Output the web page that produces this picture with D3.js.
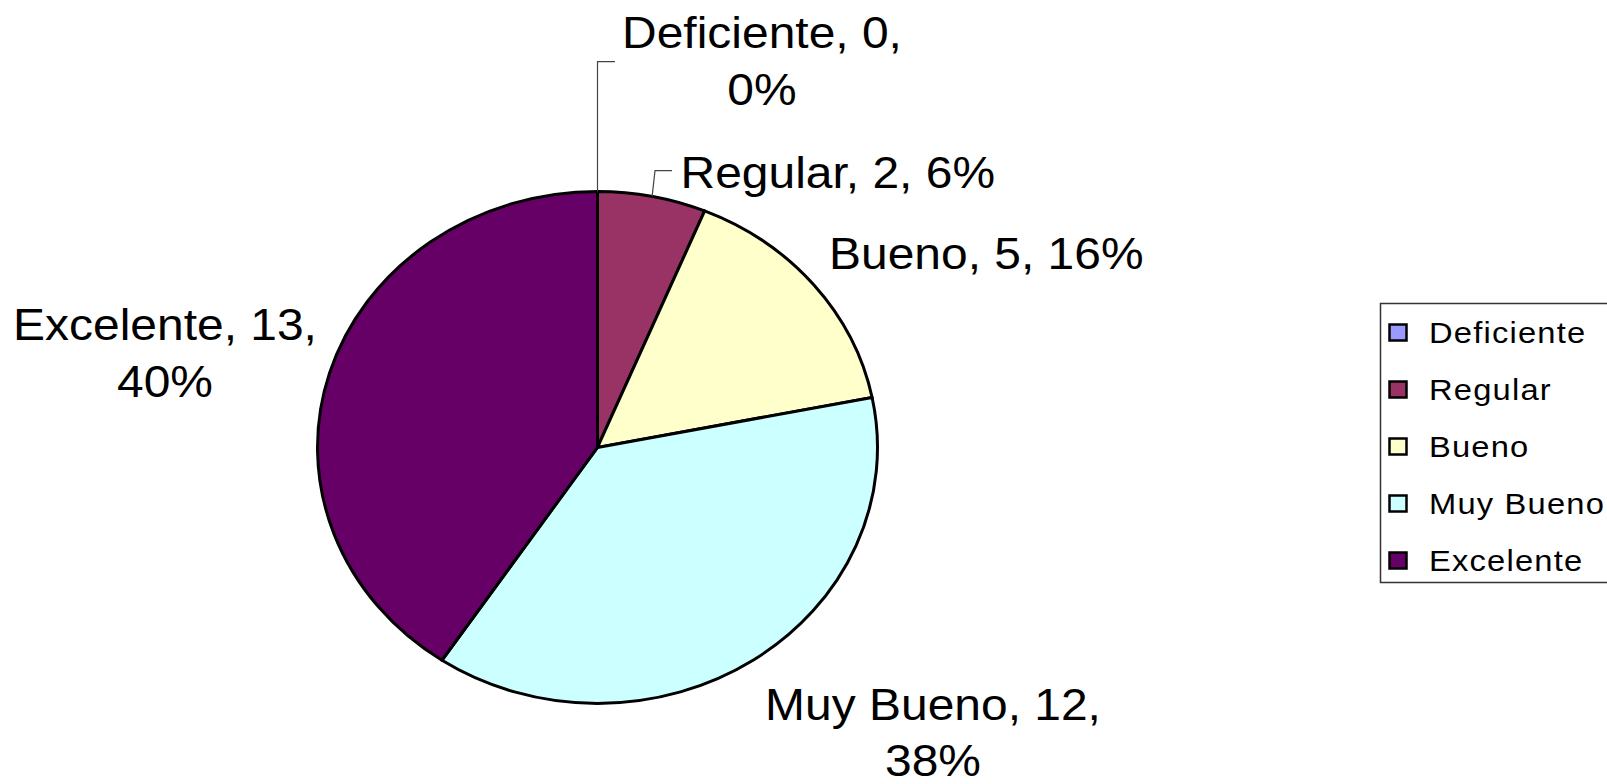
<!DOCTYPE html>
<html>
<head>
<meta charset="utf-8">
<script src="https://cdn.jsdelivr.net/npm/d3@7"></script>
<style>
  html, body { margin: 0; padding: 0; background: #fff; }
  svg { display: block; font-family: "Liberation Sans", Arial, sans-serif; }
</style>
</head>
<body>
<svg id="chart" width="1607" height="784"></svg>
<script>
// ---- data ----
const categories = ["Deficiente", "Regular", "Bueno", "Muy Bueno", "Excelente"];
const values = [0, 2, 5, 12, 13];
const percentLabels = ["0%", "6%", "16%", "38%", "40%"];
const colors = ["#9999FF", "#993366", "#FFFFCC", "#CCFFFF", "#660066"];

// ---- layout ----
const W = 1607, H = 784;
const cx = 597.5, cy = 447.4, rx = 280, ry = 256;
const sx = 1.09; // horizontal stretch of text (chart is stretched)
const svg = d3.select("#chart");
svg.append("rect").attr("width", W).attr("height", H).attr("fill", "#fff");

const pie = d3.pie().sort(null).value(d => d.v).startAngle(0).endAngle(2 * Math.PI);
const data = categories.map((c, i) => ({ c, v: values[i], pct: percentLabels[i], col: colors[i] }));
const arcs = pie(data);
const arc = d3.arc().innerRadius(0).outerRadius(rx);

const g = svg.append("g").attr("transform", `translate(${cx},${cy}) scale(1,${ry / rx})`);
g.selectAll("path").data(arcs).enter().append("path")
  .attr("d", arc)
  .attr("fill", d => d.data.col)
  .attr("stroke", "#000")
  .attr("stroke-width", 3)
  .attr("stroke-linejoin", "round")
  .attr("vector-effect", "non-scaling-stroke");

// point on ellipse edge at angle a (0 = top, clockwise)
function edge(a) { return [cx + rx * Math.sin(a), cy - ry * Math.cos(a)]; }

// ---- data labels ----
const fs = 44, lh = 56.5;
const labelPos = {
  "Deficiente": { x: 762, y: 48.3, anchor: "middle", lines: 2 },
  "Regular":    { x: 680.5, y: 187.5, anchor: "start", lines: 1 },
  "Bueno":      { x: 829, y: 268.5, anchor: "start", lines: 1 },
  "Muy Bueno":  { x: 933, y: 719.5, anchor: "middle", lines: 2 },
  "Excelente":  { x: 165, y: 340, anchor: "middle", lines: 2 }
};
arcs.forEach(a => {
  const p = labelPos[a.data.c];
  const lines = p.lines === 2 ? [`${a.data.c}, ${a.data.v},`, a.data.pct] : [`${a.data.c}, ${a.data.v}, ${a.data.pct}`];
  lines.forEach((t, k) => {
    svg.append("text")
      .attr("transform", `translate(${p.x},${p.y + k * lh}) scale(${sx},1)`)
      .attr("text-anchor", p.anchor)
      .attr("font-size", fs)
      .attr("fill", "#000")
      .text(t);
  });
});

// ---- leader lines ----
const leaders = {
  "Deficiente": (e) => [e, [e[0], 61.7], [615, 61.7]],
  "Regular":    (e) => [e, [655, 170.7], [672, 170.7]]
};
arcs.forEach(a => {
  const f = leaders[a.data.c];
  if (!f) return;
  const e = edge((a.startAngle + a.endAngle) / 2);
  svg.append("path")
    .attr("d", d3.line()(f(e)))
    .attr("fill", "none")
    .attr("stroke", "#444")
    .attr("stroke-width", 1.2);
});

// ---- legend ----
const lg = svg.append("g");
lg.append("rect").attr("x", 1380.5).attr("y", 303.5).attr("width", 260).attr("height", 279)
  .attr("fill", "#fff").attr("stroke", "#333").attr("stroke-width", 1.5);
const rowY = d3.scalePoint().domain(categories).range([343, 571]);
categories.forEach((c, i) => {
  const y = rowY(c);
  lg.append("rect").attr("x", 1389.5).attr("y", y - 18.5).attr("width", 17).attr("height", 16)
    .attr("fill", colors[i]).attr("stroke", "#000").attr("stroke-width", 2.5);
  lg.append("text")
    .attr("transform", `translate(1429,${y}) scale(${sx},1)`)
    .attr("font-size", 30)
    .attr("letter-spacing", "1.1px")
    .attr("fill", "#000")
    .text(c);
});
</script>
</body>
</html>
